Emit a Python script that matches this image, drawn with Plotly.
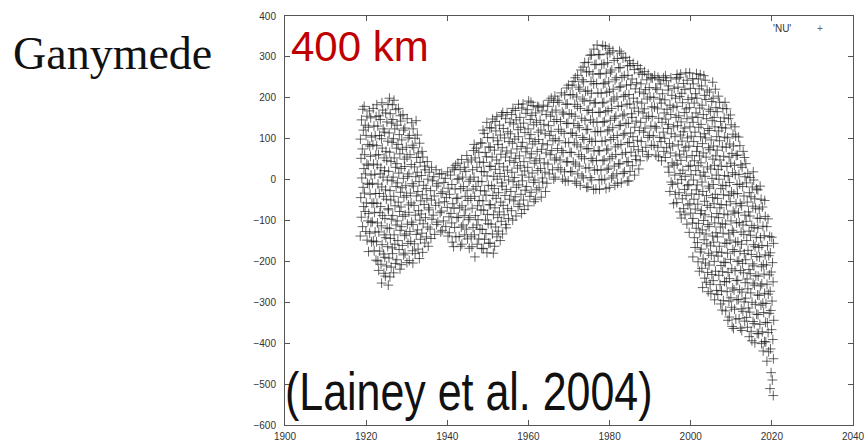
import plotly.graph_objects as go

# ---- data ('NU' residuals, km) ----
years_a = [1919, 1920, 1921, 1922, 1923, 1924, 1925, 1926, 1927, 1928, 1929, 1930, 1931, 1932, 1933, 1934, 1935]
values_a = [
    [-138, -115, -92, -66, -44, -19, 4, 27, 52, 75, 99, 121, 146, 172],
    [-148, -127, -101, -78, -57, -33, -9, 14, 38, 61, 86, 108, 133, 155, 179],
    [-176, -152, -131, -105, -83, -58, -36, -12, 11, 35, 57, 82, 104, 128, 151, 168],
    [-197, -174, -150, -128, -103, -80, -57, -34, -9, 13, 38, 60, 85, 107, 131, 154, 174],
    [-222, -199, -175, -152, -128, -106, -81, -58, -34, -11, 14, 36, 61, 83, 108, 131, 156, 183],
    [-253, -229, -207, -182, -159, -135, -113, -88, -66, -41, -18, 6, 29, 53, 77, 100, 124, 147, 170, 188],
    [-258, -236, -211, -190, -164, -142, -118, -95, -71, -48, -25, -1, 22, 47, 69, 94, 116, 141, 163, 184],
    [-238, -214, -192, -167, -144, -120, -97, -74, -50, -27, -3, 20, 44, 67, 91, 114, 138, 161, 183, 199],
    [-228, -205, -181, -158, -135, -111, -88, -64, -41, -17, 6, 30, 53, 77, 100, 124, 147, 171, 194],
    [-219, -196, -171, -149, -124, -101, -78, -55, -31, -8, 16, 39, 63, 86, 110, 133, 156, 174],
    [-208, -184, -161, -137, -115, -90, -67, -43, -20, 3, 27, 50, 74, 97, 121, 143, 159],
    [-203, -180, -156, -133, -109, -86, -62, -39, -15, 8, 32, 55, 79, 102, 126, 149],
    [-198, -174, -151, -127, -104, -80, -57, -33, -10, 14, 37, 61, 84, 108, 139],
    [-204, -181, -157, -134, -110, -87, -63, -40, -16, 7, 31, 54, 78, 101, 124, 144],
    [-193, -170, -146, -123, -99, -76, -52, -29, -5, 18, 42, 65, 89, 109],
    [-178, -155, -131, -108, -84, -61, -37, -14, 10, 33, 55, 69],
    [-163, -140, -116, -93, -69, -46, -22, 1, 24, 44],
]

years_b = [1936, 1937, 1938, 1939, 1940, 1941, 1942, 1943, 1944, 1945, 1946, 1947, 1948, 1949, 1950, 1951, 1952, 1953, 1954, 1955]
values_b = [
    [-144, -121, -97, -74, -50, -27, -3, 18, 30],
    [-134, -110, -87, -63, -40, -16, 7, 24],
    [-128, -104, -81, -57, -34, -10, 13],
    [-124, -101, -77, -54, -30, -7, 15],
    [-138, -115, -91, -68, -44, -21, 3, 19],
    [-153, -130, -106, -83, -59, -36, -12, 11, 29],
    [-164, -140, -117, -93, -70, -46, -23, 1, 24, 35],
    [-163, -139, -116, -92, -69, -45, -22, 2, 25, 40],
    [-158, -135, -111, -88, -64, -41, -17, 6, 30, 49],
    [-168, -145, -121, -98, -74, -51, -27, -4, 20, 43, 59],
    [-164, -140, -117, -93, -70, -46, -23, 1, 24, 48, 71],
    [-189, -158, -135, -111, -88, -64, -41, -17, 6, 30, 53, 77, 86],
    [-168, -145, -121, -98, -74, -51, -27, -4, 20, 43, 67, 90],
    [-169, -146, -122, -99, -75, -52, -28, -5, 19, 42, 66, 89, 113, 121],
    [-179, -155, -132, -108, -85, -61, -38, -14, 9, 33, 56, 80, 103, 127, 140],
    [-180, -156, -133, -109, -86, -62, -39, -15, 8, 32, 55, 79, 102, 126, 148],
    [-163, -140, -116, -93, -69, -46, -22, 1, 25, 48, 72, 95, 119, 142, 154],
    [-149, -126, -102, -79, -55, -32, -8, 15, 39, 62, 86, 109, 133, 158],
    [-133, -110, -86, -63, -39, -16, 8, 31, 55, 78, 102, 125, 149, 164],
    [-118, -95, -71, -48, -24, -1, 23, 46, 70, 93, 117, 140, 164],
]

years_c = [1956, 1957, 1958, 1959, 1960, 1961, 1962, 1963, 1964, 1965, 1966, 1967, 1968, 1969, 1970, 1971, 1972, 1973, 1974, 1975]
values_c = [
    [-99, -76, -52, -29, -5, 18, 42, 65, 89, 112, 136, 159, 174],
    [-89, -66, -42, -19, 5, 28, 52, 75, 99, 122, 146, 169],
    [-83, -60, -36, -13, 11, 34, 58, 81, 105, 128, 152, 175, 184],
    [-73, -50, -26, -3, 21, 44, 68, 91, 115, 138, 162, 185],
    [-64, -41, -17, 6, 30, 53, 77, 100, 124, 147, 171, 192],
    [-54, -31, -7, 16, 40, 63, 87, 110, 134, 157, 181, 189],
    [-48, -25, -1, 22, 46, 69, 93, 116, 140, 163, 179],
    [-43, -20, 4, 27, 51, 74, 98, 121, 145, 168, 177],
    [-29, -6, 18, 41, 65, 88, 112, 135, 159, 182],
    [-9, 14, 38, 61, 85, 108, 132, 155, 179, 194],
    [1, 24, 48, 71, 95, 118, 142, 165, 189, 199],
    [6, 29, 53, 76, 100, 123, 147, 170, 194, 204],
    [1, 24, 48, 71, 95, 118, 142, 165, 189, 212],
    [-4, 19, 43, 66, 90, 113, 137, 160, 184, 207, 224],
    [-3, 20, 44, 67, 91, 114, 138, 161, 185, 208, 231],
    [-4, 19, 43, 66, 90, 113, 137, 160, 184, 207, 231, 240],
    [-9, 14, 38, 61, 85, 108, 132, 155, 179, 202, 226, 249, 255],
    [-14, 9, 33, 56, 80, 103, 127, 150, 174, 197, 221, 244, 268, 275],
    [-19, 4, 28, 51, 75, 98, 122, 145, 169, 192, 216, 239, 263, 286],
    [-18, 5, 29, 52, 76, 99, 123, 146, 170, 193, 217, 240, 264, 287, 304],
]

years_d = [1976, 1977, 1978, 1979, 1980, 1981, 1982, 1983, 1984, 1985, 1986, 1987, 1988, 1989, 1990, 1991, 1992, 1993, 1994, 1995]
values_d = [
    [-24, -1, 23, 46, 70, 93, 117, 140, 164, 187, 211, 234, 258, 281, 305, 319],
    [-23, 0, 24, 47, 71, 94, 118, 141, 165, 188, 212, 235, 259, 282, 306, 329],
    [-24, -1, 23, 46, 70, 93, 117, 140, 164, 187, 211, 234, 258, 281, 305, 328],
    [-22, 1, 25, 48, 72, 95, 119, 142, 166, 189, 213, 236, 260, 283, 307, 326],
    [-19, 4, 28, 51, 75, 98, 122, 145, 169, 192, 216, 239, 263, 286, 310, 321],
    [-14, 9, 33, 56, 80, 103, 127, 150, 174, 197, 221, 244, 268, 291, 315],
    [-9, 14, 38, 61, 85, 108, 132, 155, 179, 202, 226, 249, 273, 296, 314],
    [-8, 15, 39, 62, 86, 109, 133, 156, 180, 203, 227, 250, 274, 297, 309],
    [-4, 19, 43, 66, 90, 113, 137, 160, 184, 207, 231, 254, 278, 299],
    [-3, 20, 44, 67, 91, 114, 138, 161, 185, 208, 232, 255, 279, 291],
    [11, 34, 58, 81, 105, 128, 152, 175, 199, 222, 246, 269, 284],
    [26, 49, 73, 96, 120, 143, 167, 190, 214, 237, 261, 279],
    [46, 69, 93, 116, 140, 163, 187, 210, 234, 257, 271],
    [56, 79, 103, 126, 150, 173, 197, 220, 244, 264],
    [61, 84, 108, 131, 155, 178, 202, 225, 249, 258],
    [60, 83, 107, 130, 154, 177, 201, 224, 248, 254],
    [56, 79, 103, 126, 150, 173, 197, 220, 244, 250],
    [46, 69, 93, 116, 140, 163, 187, 210, 234, 249],
    [31, 54, 78, 101, 125, 148, 172, 195, 219, 242, 254],
    [-29, -6, 18, 41, 65, 88, 112, 135, 159, 182, 206, 229, 249],
]

years_e = [1996, 1997, 1998, 1999, 2000, 2001, 2002, 2003, 2004, 2005, 2006, 2007, 2008, 2009, 2010]
values_e = [
    [-59, -36, -12, 11, 35, 58, 82, 105, 129, 152, 176, 199, 223, 246],
    [-79, -56, -32, -9, 15, 38, 62, 85, 109, 132, 156, 179, 203, 226, 250, 257],
    [-94, -71, -47, -24, 0, 23, 47, 70, 94, 117, 141, 164, 188, 211, 235, 258],
    [-109, -86, -62, -39, -15, 8, 32, 55, 79, 102, 126, 149, 173, 196, 220, 243, 261],
    [-129, -106, -82, -59, -35, -12, 12, 35, 59, 82, 106, 129, 153, 176, 200, 223, 247, 261],
    [-189, -166, -142, -119, -95, -72, -48, -25, -1, 22, 46, 69, 93, 116, 140, 163, 187, 210, 234, 259],
    [-224, -201, -177, -154, -130, -107, -83, -60, -36, -13, 11, 34, 58, 81, 105, 128, 152, 175, 199, 222, 246, 257],
    [-264, -241, -217, -194, -170, -147, -123, -100, -76, -53, -29, -6, 18, 41, 65, 88, 112, 135, 159, 182, 206, 229, 254],
    [-274, -251, -227, -204, -180, -157, -133, -110, -86, -63, -39, -16, 8, 31, 55, 78, 102, 125, 149, 172, 196, 219, 243],
    [-279, -256, -232, -209, -185, -162, -138, -115, -91, -68, -44, -21, 3, 26, 50, 73, 97, 120, 144, 167, 191, 214, 238],
    [-294, -271, -247, -224, -200, -177, -153, -130, -106, -83, -59, -36, -12, 11, 35, 58, 82, 105, 129, 152, 176, 199, 221],
    [-304, -281, -257, -234, -210, -187, -163, -140, -116, -93, -69, -46, -22, 1, 25, 48, 72, 95, 119, 142, 166, 189, 204],
    [-319, -296, -272, -249, -225, -202, -178, -155, -131, -108, -84, -61, -37, -14, 10, 33, 57, 80, 104, 127, 151, 174, 189],
    [-344, -321, -297, -274, -250, -227, -203, -180, -156, -133, -109, -86, -62, -39, -15, 8, 32, 55, 79, 102, 126, 149, 173],
    [-359, -336, -312, -289, -265, -242, -218, -195, -171, -148, -124, -101, -77, -54, -30, -7, 17, 40, 64, 87, 111, 134, 158],
]

years_f = [2011, 2012, 2013, 2014, 2015, 2016, 2017, 2018, 2019, 2020]
values_f = [
    [-364, -341, -317, -294, -270, -247, -223, -200, -176, -153, -129, -106, -82, -59, -35, -12, 12, 35, 59, 82, 106, 129],
    [-363, -340, -316, -293, -269, -246, -222, -199, -175, -152, -128, -105, -81, -58, -34, -11, 13, 36, 60, 83, 104],
    [-369, -346, -322, -299, -275, -252, -228, -205, -181, -158, -134, -111, -87, -64, -40, -17, 7, 30, 54, 69],
    [-384, -361, -337, -314, -290, -267, -243, -220, -196, -173, -149, -126, -102, -79, -55, -32, -8, 15, 39],
    [-394, -371, -347, -324, -300, -277, -253, -230, -206, -183, -159, -136, -112, -89, -65, -42, -18, 5, 19],
    [-399, -376, -352, -329, -305, -282, -258, -235, -211, -188, -164, -141, -117, -94, -70, -47, -23, -1],
    [-401, -377, -354, -330, -307, -283, -260, -236, -213, -189, -166, -142, -119, -95, -72, -48, -25, -16],
    [-419, -396, -372, -349, -325, -302, -278, -255, -231, -208, -184, -161, -137, -114, -90, -67, -51],
    [-444, -421, -397, -374, -350, -327, -303, -280, -256, -233, -209, -186, -162, -139, -115, -96],
    [-528, -511, -490, -472, -438, -414, -391, -367, -344, -320, -297, -273, -250, -226, -203, -179, -156, -141],
]

# observation times within each year (fraction of year), used in turn for the points of a column
obs_phase = [0.05, 0.62, 0.31, 0.88, 0.17, 0.74, 0.43, 0.96, 0.24, 0.55, 0.09, 0.81, 0.36, 0.67, 0.13, 0.92,
             0.48, 0.28, 0.71, 0.02, 0.58, 0.39, 0.85]

x_ticks = [1900, 1920, 1940, 1960, 1980, 2000, 2020, 2040]
y_ticks = [400, 300, 200, 100, 0, -100, -200, -300, -400, -500, -600]

# ---- build flat point lists ----
xs, ys = [], []
col_index = 0
for yrs, vals in [(years_a, values_a), (years_b, values_b), (years_c, values_c),
                  (years_d, values_d), (years_e, values_e), (years_f, values_f)]:
    for yr, col in zip(yrs, vals):
        for k, v in enumerate(col):
            xs.append(yr - 0.5 + obs_phase[(k + 5 * col_index) % len(obs_phase)])
            ys.append(v)
        col_index += 1

fig = go.Figure()
fig.add_trace(go.Scatter(
    x=xs, y=ys, mode="markers", name="'NU'", showlegend=False,
    marker=dict(symbol="cross-thin", size=7,
                line=dict(width=1, color="rgba(10,10,10,0.62)")),
))

L, R, T, B = 285, 12, 16, 18
W, H = 865, 443
pw, ph = W - L - R, H - T - B


def px(xp):
    return (xp - L) / pw


def py(yp):
    return (H - B - yp) / ph


axis_common = dict(showline=True, linecolor="#555555", linewidth=1, mirror="ticks",
                   ticks="inside", ticklen=5, tickcolor="#555555", showgrid=False,
                   zeroline=False, automargin=False,
                   tickfont=dict(family="Liberation Sans, Arial", size=10, color="#333333"))

fig.update_layout(
    width=W, height=H,
    margin=dict(l=L, r=R, t=T, b=B),
    paper_bgcolor="white", plot_bgcolor="white",
    xaxis=dict(range=[1900, 2040], tickvals=x_ticks, ticklabelstandoff=2, **axis_common),
    yaxis=dict(range=[-600, 400], tickvals=y_ticks, ticklabelstandoff=6, **axis_common),
    annotations=[
        dict(text="Ganymede", xref="paper", yref="paper", x=px(11), y=py(53),
             xanchor="left", yanchor="middle", showarrow=False,
             font=dict(family="Liberation Serif, Times New Roman, serif", size=46, color="#111111")),
        dict(text="400 km", xref="paper", yref="paper", x=px(289), y=py(46),
             xanchor="left", yanchor="middle", showarrow=False,
             font=dict(family="Liberation Sans, Arial", size=42, color="#c00000")),
        dict(text="(Lainey et al. 2004)", xref="paper", yref="paper", x=px(283), y=py(391),
             xanchor="left", yanchor="middle", showarrow=False,
             font=dict(family="Liberation Sans, Arial", size=53, color="#111111")),
        dict(text="'NU'", xref="paper", yref="paper", x=px(793), y=py(28),
             xanchor="right", yanchor="middle", showarrow=False,
             font=dict(family="Liberation Sans, Arial", size=10, color="#333333")),
        dict(text="+", xref="paper", yref="paper", x=px(820), y=py(28),
             xanchor="center", yanchor="middle", showarrow=False,
             font=dict(family="Liberation Sans, Arial", size=10, color="#666666")),
    ],
)

# squeeze the citation horizontally (the reference uses a condensed face)
post_js = """
(function(){
  function squeeze(){
    var nodes = document.querySelectorAll('text.annotation-text');
    nodes.forEach(function(t){
      if (t.textContent.indexOf('Lainey') >= 0) {
        var bb = t.getBBox();
        var x0 = bb.x;
        t.setAttribute('transform', 'translate(' + x0 + ',0) scale(0.81,1) translate(' + (-x0) + ',0)');
      }
    });
  }
  squeeze();
  var gd = document.getElementById('{plot_id}');
  if (gd && gd.on) { gd.on('plotly_afterplot', squeeze); }
})();
"""

fig.write_html("out.html", post_script=post_js)
